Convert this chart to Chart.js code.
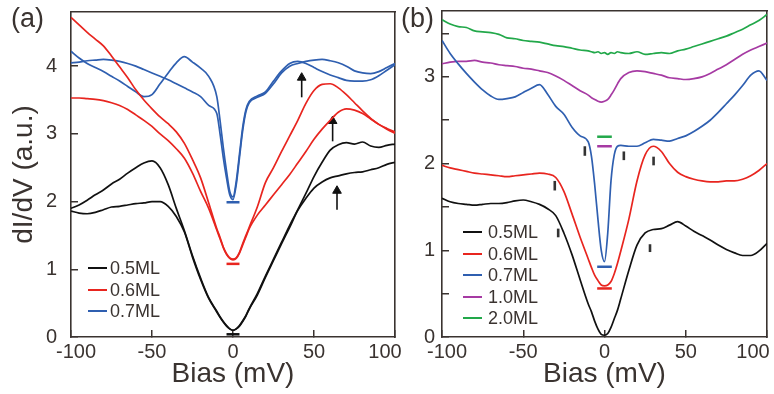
<!DOCTYPE html>
<html><head><meta charset="utf-8">
<script src="https://cdn.jsdelivr.net/npm/chart.js@4.4.1/dist/chart.umd.min.js"></script>
<style>
html,body{margin:0;padding:0;background:#fff}
body{width:774px;height:394px;overflow:hidden;position:relative;font-family:"Liberation Sans",Arial,sans-serif;color:#3a3330}
.panel{position:absolute;top:0;height:394px}
#pa{left:0;width:412px}
#pb{left:388px;width:386px}
.lab{position:absolute;font-size:27px;line-height:27px}
.sw{position:absolute;height:0;border-top:2.5px solid}
.lt{position:absolute;font-size:18px;line-height:20px;white-space:nowrap}
</style></head>
<body>
<div class="panel" id="pb"><canvas id="cb" width="386" height="394"></canvas></div>
<div class="panel" id="pa"><canvas id="ca" width="412" height="394"></canvas></div>
<div class="lab" style="left:11px;top:5px">(a)</div>
<div class="lab" style="left:401px;top:5px">(b)</div>
<div id="legA"></div>
<div id="legB"></div>
<script>
// ---------- data ----------
const bias = [-100,-95,-90,-85,-80,-75,-70,-65,-60,-55,-50,-45,-40,-35,-30,-25,-20,-15,-10,-8,-6,-4,-2,0,2,4,6,8,10,15,20,25,30,35,40,45,50,55,60,65,70,75,80,85,90,95,100];

// panel (a): two spectra per coverage
const aBlack1 = [1.90,1.95,2.02,2.10,2.17,2.26,2.33,2.42,2.50,2.57,2.60,2.50,2.25,1.90,1.57,1.20,0.87,0.58,0.38,0.30,0.23,0.17,0.12,0.10,0.12,0.17,0.24,0.32,0.42,0.64,0.90,1.15,1.40,1.65,1.88,2.12,2.37,2.58,2.76,2.84,2.87,2.85,2.88,2.82,2.80,2.83,2.85];
const aBlack2 = [1.86,1.83,1.82,1.84,1.88,1.92,1.93,1.95,1.97,1.98,2.00,2.00,1.93,1.78,1.55,1.18,0.85,0.57,0.37,0.29,0.22,0.16,0.12,0.10,0.12,0.16,0.23,0.31,0.41,0.62,0.88,1.13,1.38,1.62,1.87,2.05,2.20,2.29,2.35,2.38,2.41,2.43,2.44,2.47,2.50,2.55,2.58];
const aRed1   = [4.72,4.61,4.50,4.40,4.30,4.15,3.99,3.83,3.65,3.50,3.37,3.25,3.15,3.03,2.86,2.62,2.35,1.98,1.60,1.47,1.33,1.23,1.17,1.15,1.17,1.25,1.38,1.50,1.62,1.92,2.28,2.50,2.74,2.97,3.20,3.45,3.64,3.73,3.74,3.68,3.58,3.46,3.34,3.23,3.14,3.08,3.03];
const aRed2   = [3.53,3.53,3.52,3.51,3.49,3.46,3.42,3.36,3.28,3.20,3.11,3.00,2.90,2.78,2.64,2.42,2.15,1.90,1.58,1.45,1.32,1.22,1.16,1.14,1.16,1.24,1.36,1.48,1.60,1.80,1.95,2.10,2.25,2.40,2.57,2.74,2.92,3.07,3.20,3.32,3.37,3.35,3.30,3.22,3.14,3.07,3.01];
const aBlue1  = [4.22,4.12,4.04,3.98,3.92,3.85,3.78,3.70,3.62,3.55,3.58,3.74,3.90,4.05,4.14,4.06,3.97,3.85,3.55,3.20,2.80,2.45,2.15,2.07,2.30,2.70,3.10,3.36,3.48,3.56,3.62,3.78,3.93,4.04,4.07,4.04,3.98,3.92,3.87,3.83,3.79,3.78,3.78,3.80,3.86,3.94,4.02];
const aBlue2  = [4.05,4.06,4.08,4.09,4.10,4.09,4.07,4.04,4.00,3.95,3.90,3.85,3.80,3.74,3.68,3.62,3.55,3.42,3.30,3.00,2.65,2.35,2.10,2.03,2.25,2.65,3.05,3.33,3.46,3.54,3.60,3.74,3.90,4.00,4.04,4.07,4.09,4.10,4.08,4.05,4.00,3.93,3.90,3.89,3.92,3.98,4.04];
// zero-conductance markers (black, red, blue)
const aZero = [0.04, 1.08, 1.99];
// arrows: bias, tail, tip
const arrowBias = [42.4, 61.5, 64.2];
const arrowTail = [3.54, 2.89, 1.88];
const arrowTip  = [3.90, 3.26, 2.23];

// panel (b)
const bBlack   = [1.60,1.56,1.54,1.53,1.52,1.53,1.54,1.54,1.55,1.57,1.58,1.56,1.53,1.48,1.40,1.20,0.95,0.66,0.38,0.29,0.18,0.09,0.03,0.02,0.04,0.11,0.21,0.31,0.44,0.77,1.06,1.20,1.24,1.25,1.29,1.33,1.28,1.22,1.17,1.12,1.06,1.01,0.97,0.94,0.94,0.99,1.08];
const bRed     = [1.98,1.95,1.93,1.91,1.89,1.88,1.87,1.86,1.85,1.86,1.87,1.88,1.89,1.88,1.84,1.68,1.42,1.15,0.90,0.80,0.71,0.65,0.60,0.59,0.60,0.64,0.73,0.85,0.99,1.36,1.80,2.10,2.20,2.14,2.00,1.90,1.85,1.82,1.80,1.79,1.79,1.80,1.80,1.82,1.86,1.92,2.00];
const bBlue    = [3.42,3.27,3.15,3.04,2.94,2.85,2.78,2.74,2.75,2.77,2.82,2.87,2.91,2.80,2.66,2.57,2.42,2.32,2.25,2.08,1.75,1.35,1.00,0.87,1.20,1.80,2.10,2.20,2.21,2.20,2.20,2.24,2.28,2.27,2.26,2.29,2.32,2.37,2.43,2.50,2.59,2.69,2.79,2.90,3.02,3.07,2.96];
const bMagenta = [3.15,3.17,3.18,3.18,3.19,3.17,3.16,3.14,3.13,3.12,3.10,3.09,3.07,3.05,3.01,2.96,2.90,2.84,2.79,2.76,2.74,2.72,2.71,2.72,2.74,2.79,2.85,2.92,2.98,3.05,3.07,3.06,3.04,3.02,2.99,2.98,2.97,2.98,3.00,3.04,3.09,3.14,3.20,3.26,3.31,3.35,3.39];
const bGreen   = [3.66,3.61,3.58,3.57,3.53,3.52,3.51,3.49,3.45,3.44,3.42,3.41,3.40,3.38,3.36,3.35,3.33,3.31,3.30,3.29,3.28,3.29,3.27,3.28,3.26,3.28,3.27,3.29,3.28,3.27,3.29,3.26,3.27,3.28,3.27,3.30,3.32,3.35,3.38,3.41,3.44,3.47,3.51,3.55,3.60,3.65,3.72];
// zero markers (black, red, blue, 1.0ML, 2.0ML)
const bZero = [0.0, 0.56, 0.81, 2.20, 2.31];
// gap-edge tick marks: bias, low, high
const gapBias = [-28.5, 28.0, -30.6, 30.2, -12.1, 11.9];
const gapLow  = [1.15, 0.98, 1.69, 1.98, 2.09, 2.04];
const gapHigh = [1.25, 1.07, 1.80, 2.08, 2.20, 2.14];

const labelsA = ['0.5ML','0.6ML','0.7ML'];
const labelsB = ['0.5ML','0.6ML','0.7ML','1.0ML','2.0ML'];

// ---------- styles ----------
const C = {black:'#111111', red:'#e8251f', blue:'#2f5fb0', magenta:'#a63aa3', green:'#22a84a', ink:'#3a3330'};
Chart.defaults.font.family = '"Liberation Sans", Arial, sans-serif';
Chart.defaults.color = C.ink;

function pts(vals){ return bias.map((x,i)=>({x:x, y:vals[i]})); }
function curve(vals,color){ return {data:pts(vals), borderColor:color, borderWidth:1.7, pointRadius:0, cubicInterpolationMode:'monotone', fill:false}; }
function seg(x1,y1,x2,y2,color,w){ return {data:[{x:x1,y:y1},{x:x2,y:y2}], borderColor:color, borderWidth:w, pointRadius:0, fill:false, tension:0}; }

const BORDER = {display:true, color:C.ink, width:1.6};
function noPadH(s){ s.paddingLeft = 0; s.paddingRight = 0; }
function noPadV(s){ s.paddingTop = 0; s.paddingBottom = 0; }

// nudges the outermost bias labels inward, as in the original figure
const edgeLabels = {id:'edgeLabels', beforeDraw(chart, args, opts){
  const s = chart.scales.x;
  if (!s || typeof s._computeLabelItems !== 'function') return;
  const items = s._computeLabelItems(chart.chartArea);
  if (!items || !items.length) return;
  items[0].options.translation[0] += opts.first || 0;
  items[items.length-1].options.translation[0] += opts.last || 0;
  s._labelItems = items;
}};

function xScale(){
  return {type:'linear', position:'bottom', min:-100, max:100,
    ticks:{stepSize:50, font:{size:20}, padding:10, maxRotation:0, includeBounds:false, color:C.ink},
    grid:{drawOnChartArea:false, drawTicks:true, tickLength:-7, color:C.ink, lineWidth:1.5},
    border:BORDER,
    title:{display:true, text:'Bias (mV)', font:{size:28}, color:C.ink, padding:{top:0,bottom:3}},
    afterFit(s){ s.height = 57; noPadH(s); }};
}
function x2Scale(){
  return {type:'linear', position:'top', min:-100, max:100,
    ticks:{display:false}, grid:{display:false}, border:BORDER,
    afterFit(s){ s.height = 0; noPadH(s); }};
}
function y2Scale(max){
  return {type:'linear', position:'right', min:0, max:max,
    ticks:{display:false}, grid:{display:false}, border:BORDER,
    afterFit(s){ s.width = 0; noPadV(s); }};
}

// ---------- panel (a) ----------
const dsA = [
  curve(aBlack1,C.black), curve(aBlack2,C.black),
  curve(aRed1,C.red), curve(aRed2,C.red),
  curve(aBlue1,C.blue), curve(aBlue2,C.blue),
  seg(-4,aZero[0],4,aZero[0],C.black,2.5),
  seg(-4,aZero[1],4,aZero[1],C.red,2.5),
  seg(-4,aZero[2],4,aZero[2],C.blue,2.5)
];
arrowBias.forEach((b,i)=>{
  dsA.push({data:[{x:b,y:arrowTail[i]},{x:b,y:arrowTip[i]-0.07}], borderColor:C.black, backgroundColor:C.black,
    borderWidth:1.6, pointStyle:'triangle', pointRadius:(ctx)=>ctx.dataIndex===1?5:0,
    pointBackgroundColor:C.black, pointBorderColor:C.black, pointBorderWidth:1, fill:false});
});

new Chart(document.getElementById('ca'), {
  type:'line', data:{datasets:dsA},
  options:{responsive:false, animation:false, devicePixelRatio:1,
    layout:{padding:{top:12,right:17,left:0,bottom:0}},
    plugins:{legend:{display:false}, tooltip:{enabled:false}, edgeLabels:{first:5, last:-10}},
    scales:{x:xScale(), x2:x2Scale(), y2:y2Scale(4.8),
      y:{type:'linear', position:'left', min:0, max:4.8,
        ticks:{stepSize:1, font:{size:20}, padding:21, includeBounds:false, color:C.ink},
        grid:{drawOnChartArea:false, drawTicks:true, tickLength:-7, color:C.ink, lineWidth:1.5},
        border:BORDER,
        title:{display:true, text:'dI/dV (a.u.)', font:{size:28}, color:C.ink, padding:{top:7,bottom:0}},
        afterFit(s){ s.width = 71; noPadV(s); }}}},
  plugins:[edgeLabels]
});

// ---------- panel (b) ----------
const dsB = [
  curve(bBlack,C.black), curve(bRed,C.red), curve(bBlue,C.blue), curve(bMagenta,C.magenta), curve(bGreen,C.green),
  seg(-4.5,bZero[1],4.5,bZero[1],C.red,2.5),
  seg(-4.5,bZero[2],4.5,bZero[2],C.blue,2.5),
  seg(-4.5,bZero[3],4.5,bZero[3],C.magenta,2.5),
  seg(-4.5,bZero[4],4.5,bZero[4],C.green,2.5)
];
gapBias.forEach((b,i)=>{ dsB.push(seg(b,gapLow[i],b,gapHigh[i],'#333333',2.6)); });

new Chart(document.getElementById('cb'), {
  type:'line', data:{datasets:dsB},
  options:{responsive:false, animation:false, devicePixelRatio:1,
    layout:{padding:{top:11,right:7,left:0,bottom:0}},
    plugins:{legend:{display:false}, tooltip:{enabled:false}, edgeLabels:{first:5, last:-14}},
    scales:{x:xScale(), x2:x2Scale(), y2:y2Scale(3.76),
      y:{type:'linear', position:'left', min:0, max:3.76,
        ticks:{stepSize:0.5, font:{size:20}, padding:14, includeBounds:false, color:C.ink,
          callback:(v)=> Number.isInteger(v) ? String(v) : ''},
        grid:{drawOnChartArea:false, drawTicks:true, tickLength:-7, color:C.ink, lineWidth:1.5},
        border:BORDER,
        afterFit(s){ s.width = 54; noPadV(s); }}}},
  plugins:[edgeLabels]
});

// ---------- legends (HTML text) ----------
function legend(id, labels, colors, top0, step, swLeft, swW, txtLeft){
  const root = document.getElementById(id);
  labels.forEach((t,i)=>{
    const cy = top0 + i*step;
    const sw = document.createElement('div'); sw.className='sw';
    sw.style.left = swLeft+'px'; sw.style.width = swW+'px'; sw.style.top = (cy-1)+'px'; sw.style.borderColor = colors[i];
    const tx = document.createElement('div'); tx.className='lt';
    tx.style.left = txtLeft+'px'; tx.style.top = (cy-10)+'px'; tx.textContent = t;
    root.appendChild(sw); root.appendChild(tx);
  });
}
legend('legA', labelsA, [C.black,C.red,C.blue], 268, 21.5, 88, 19, 110);
legend('legB', labelsB, [C.black,C.red,C.blue,C.magenta,C.green], 232, 21.6, 463, 19, 488);
</script>
</body></html>
